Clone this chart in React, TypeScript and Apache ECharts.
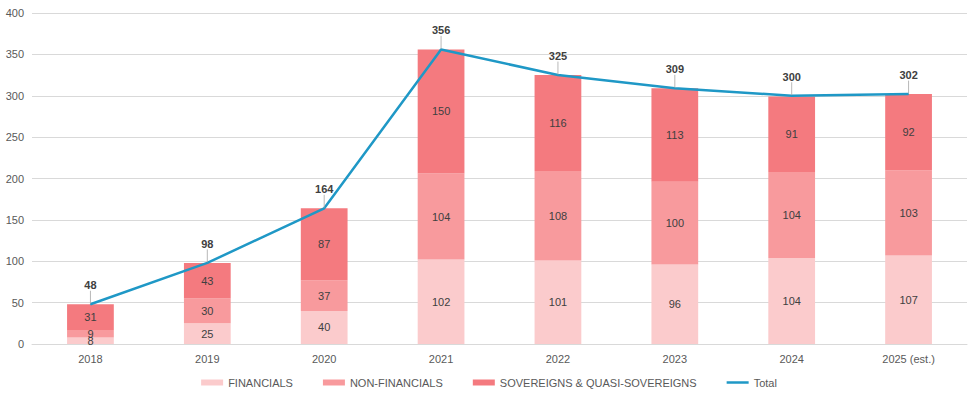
import React, { useEffect, useRef } from "react";
import * as echarts from "echarts";

const categories = ["2018", "2019", "2020", "2021", "2022", "2023", "2024", "2025 (est.)"];
const financials = [8, 25, 40, 102, 101, 96, 104, 107];
const nonFinancials = [9, 30, 37, 104, 108, 100, 104, 103];
const sovereigns = [31, 43, 87, 150, 116, 113, 91, 92];
const totals = [48, 98, 164, 356, 325, 309, 300, 302];

const FONT = "Liberation Sans";

export default function App() {
  const ref = useRef<HTMLDivElement>(null);
  useEffect(() => {
    if (!ref.current) return;
    const chart = echarts.init(ref.current, null, { renderer: "svg" });
    const barLabel = {
      show: true,
      position: "inside" as const,
      color: "#404040",
      fontSize: 11,
      fontFamily: FONT,
    };
    chart.setOption({
      animation: false,
      textStyle: { fontFamily: FONT },
      grid: { left: 32, right: 11, top: 13, bottom: 55 },
      legend: {
        bottom: 6,
        left: "center",
        itemWidth: 22,
        itemHeight: 6,
        itemGap: 30,
        textStyle: { color: "#595959", fontSize: 11, fontFamily: FONT },
        data: [
          { name: "FINANCIALS", icon: "rect" },
          { name: "NON-FINANCIALS", icon: "rect" },
          { name: "SOVEREIGNS & QUASI-SOVEREIGNS", icon: "rect" },
          { name: "Total", icon: "path://M0,0 L22,0 L22,2.5 L0,2.5 Z" },
        ],
      },
      xAxis: {
        type: "category",
        data: categories,
        axisLine: { lineStyle: { color: "#D9D9D9" } },
        axisTick: { show: false },
        axisLabel: { color: "#595959", fontSize: 11, margin: 9 },
      },
      yAxis: {
        type: "value",
        min: 0,
        max: 400,
        interval: 50,
        axisLabel: { color: "#595959", fontSize: 11, margin: 8 },
        splitLine: { lineStyle: { color: "#D9D9D9" } },
      },
      series: [
        {
          name: "FINANCIALS",
          type: "bar",
          stack: "s",
          barWidth: "40%",
          data: financials,
          itemStyle: { color: "#FBCBCC" },
          label: barLabel,
        },
        {
          name: "NON-FINANCIALS",
          type: "bar",
          stack: "s",
          data: nonFinancials,
          itemStyle: { color: "#F89A9D" },
          label: barLabel,
        },
        {
          name: "SOVEREIGNS & QUASI-SOVEREIGNS",
          type: "bar",
          stack: "s",
          data: sovereigns,
          itemStyle: { color: "#F47A7F" },
          label: barLabel,
        },
        {
          name: "Total",
          type: "line",
          data: totals,
          symbol: "circle",
          symbolSize: 1,
          showSymbol: true,
          lineStyle: { color: "#1F98C6", width: 2.5 },
          itemStyle: { color: "#1F98C6" },
          label: {
            show: true,
            position: "top",
            distance: 4,
            color: "#404040",
            fontSize: 11,
            fontWeight: "bold",
          },
          labelLayout: { dy: -9 },
          labelLine: { show: true, lineStyle: { color: "#A6A6A6", width: 0.8 } },
          z: 5,
        },
      ],
    });
    return () => chart.dispose();
  }, []);
  return (
    <div
      ref={ref}
      style={{ position: "absolute", left: 0, top: 0, width: 978, height: 399 }}
    />
  );
}
